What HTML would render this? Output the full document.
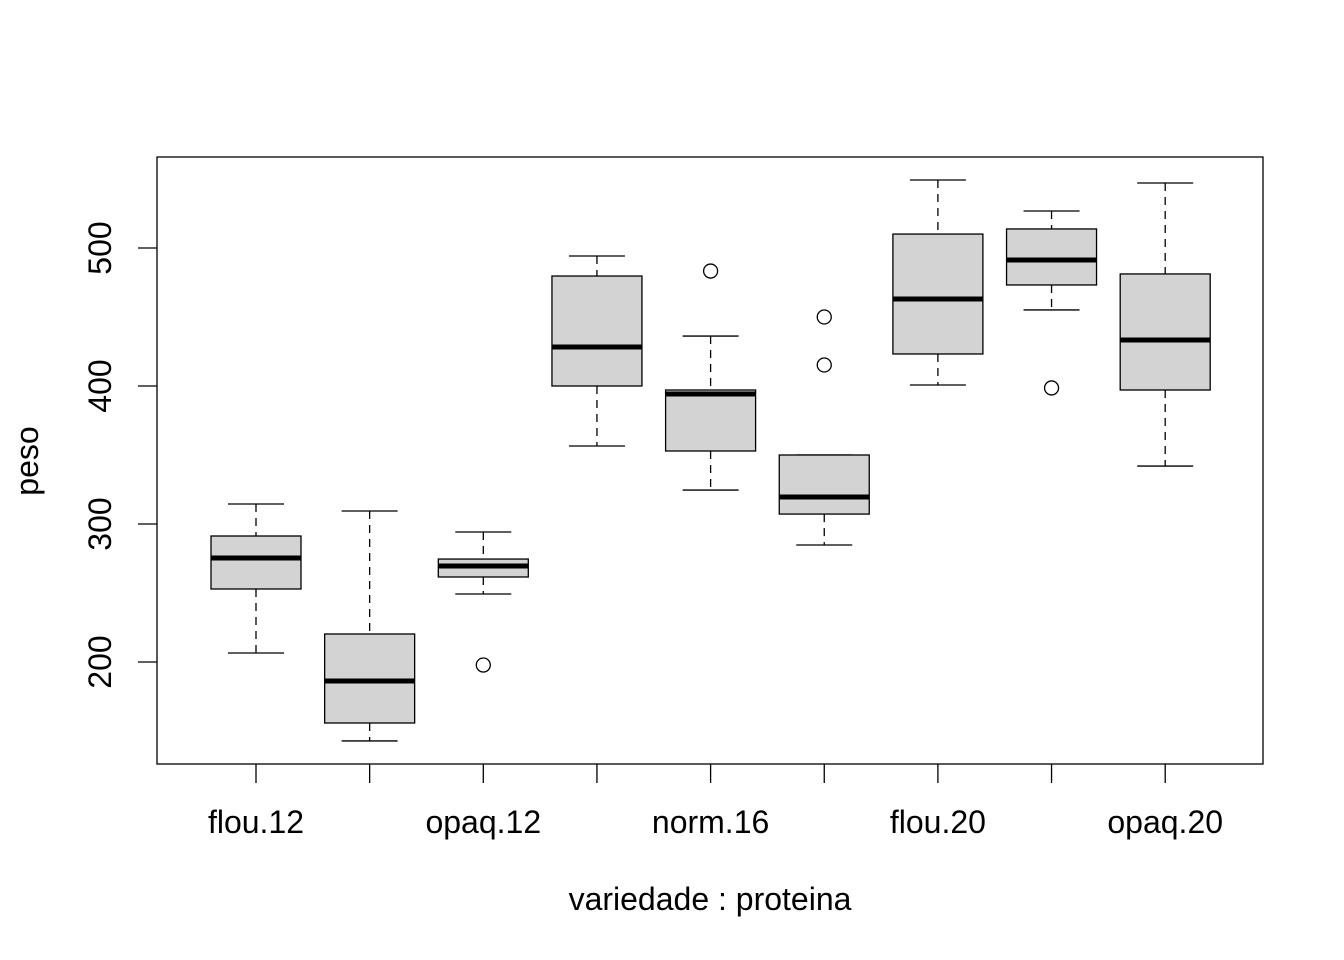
<!DOCTYPE html>
<html><head><meta charset="utf-8"><style>body{margin:0;background:#fff}svg{display:block}text{font-family:"Liberation Sans",sans-serif;fill:#000}</style></head>
<body>
<svg id="c" width="1344" height="960"></svg>
<script>
const categories=["flou.12","norm.12","opaq.12","flou.16","norm.16","opaq.16","flou.20","norm.20","opaq.20"];
const whiskerLow=[206.5,142.8,249.3,356.5,324.6,284.8,400.7,455.1,342];
const q1=[252.9,155.8,261.6,400,352.9,307.2,423.2,473.2,397.1];
const median=[275.4,186.2,269.6,428.3,394.2,319.6,463,491.3,433.3];
const q3=[291.3,220.3,274.6,479.7,397.1,350,510.1,513.8,481.2];
const whiskerHigh=[314.5,309.4,294.2,494.2,436.2,350,549.3,526.8,547.1];
const outliers=[[],[],[197.8],[],[483.3],[450,415.2],[],[398.6],[]];
const yTicks=[200,300,400,500];
const ns="http://www.w3.org/2000/svg",svg=document.getElementById('c');
const y=v=>662-(v-200)*1.38;
const x=i=>256+i*113.65;
function mk(t,a,p){const e=document.createElementNS(ns,t);for(const k in a)e.setAttribute(k,a[k]);(p||svg).appendChild(e);return e;}
const frame=mk('rect',{x:157,y:157,width:1106,height:607,fill:'none',stroke:'#000','stroke-width':1.3});


yTicks.forEach(v=>{
 const l=mk('line',{x1:138,x2:157,y1:y(v),y2:y(v),stroke:'#000','stroke-width':1.3});
 
 
 const t=mk('text',{x:0,y:0,'font-size':32,'text-anchor':'middle',transform:`translate(111,${y(v)}) rotate(-90)`});t.textContent=v;
 
 
});
categories.forEach((c,i)=>{
 const cx=x(i),g=mk('g',{});
 
 
 const s={stroke:'#000','stroke-width':1.3};
 mk('line',{x1:cx,x2:cx,y1:y(whiskerHigh[i]),y2:y(q3[i]),...s,'stroke-dasharray':'8,6'},g);
 mk('line',{x1:cx,x2:cx,y1:y(q1[i]),y2:y(whiskerLow[i]),...s,'stroke-dasharray':'8,6'},g);
 mk('line',{x1:cx-28,x2:cx+28,y1:y(whiskerHigh[i]),y2:y(whiskerHigh[i]),...s},g);
 mk('line',{x1:cx-28,x2:cx+28,y1:y(whiskerLow[i]),y2:y(whiskerLow[i]),...s},g);
 mk('rect',{x:cx-45,y:y(q3[i]),width:90,height:y(q1[i])-y(q3[i]),fill:'#d3d3d3',...s},g);
 mk('line',{x1:cx-45,x2:cx+45,y1:y(median[i]),y2:y(median[i]),stroke:'#000','stroke-width':5},g);
 outliers[i].forEach(o=>mk('circle',{cx:cx,cy:y(o),r:7,fill:'none',...s},g));
 const tk=mk('line',{x1:cx,x2:cx,y1:764,y2:783,...s});
 
 
 if(i%2==0){const t=mk('text',{x:cx,y:833,'font-size':32,'text-anchor':'middle'});t.textContent=c;
 
 }
});
const xt=mk('text',{x:710,y:910,'font-size':32,'text-anchor':'middle'});xt.textContent='variedade : proteina';


const yt=mk('text',{x:0,y:0,'font-size':32,'text-anchor':'middle',transform:'translate(38,461) rotate(-90)'});yt.textContent='peso';


</script>
</body></html>
